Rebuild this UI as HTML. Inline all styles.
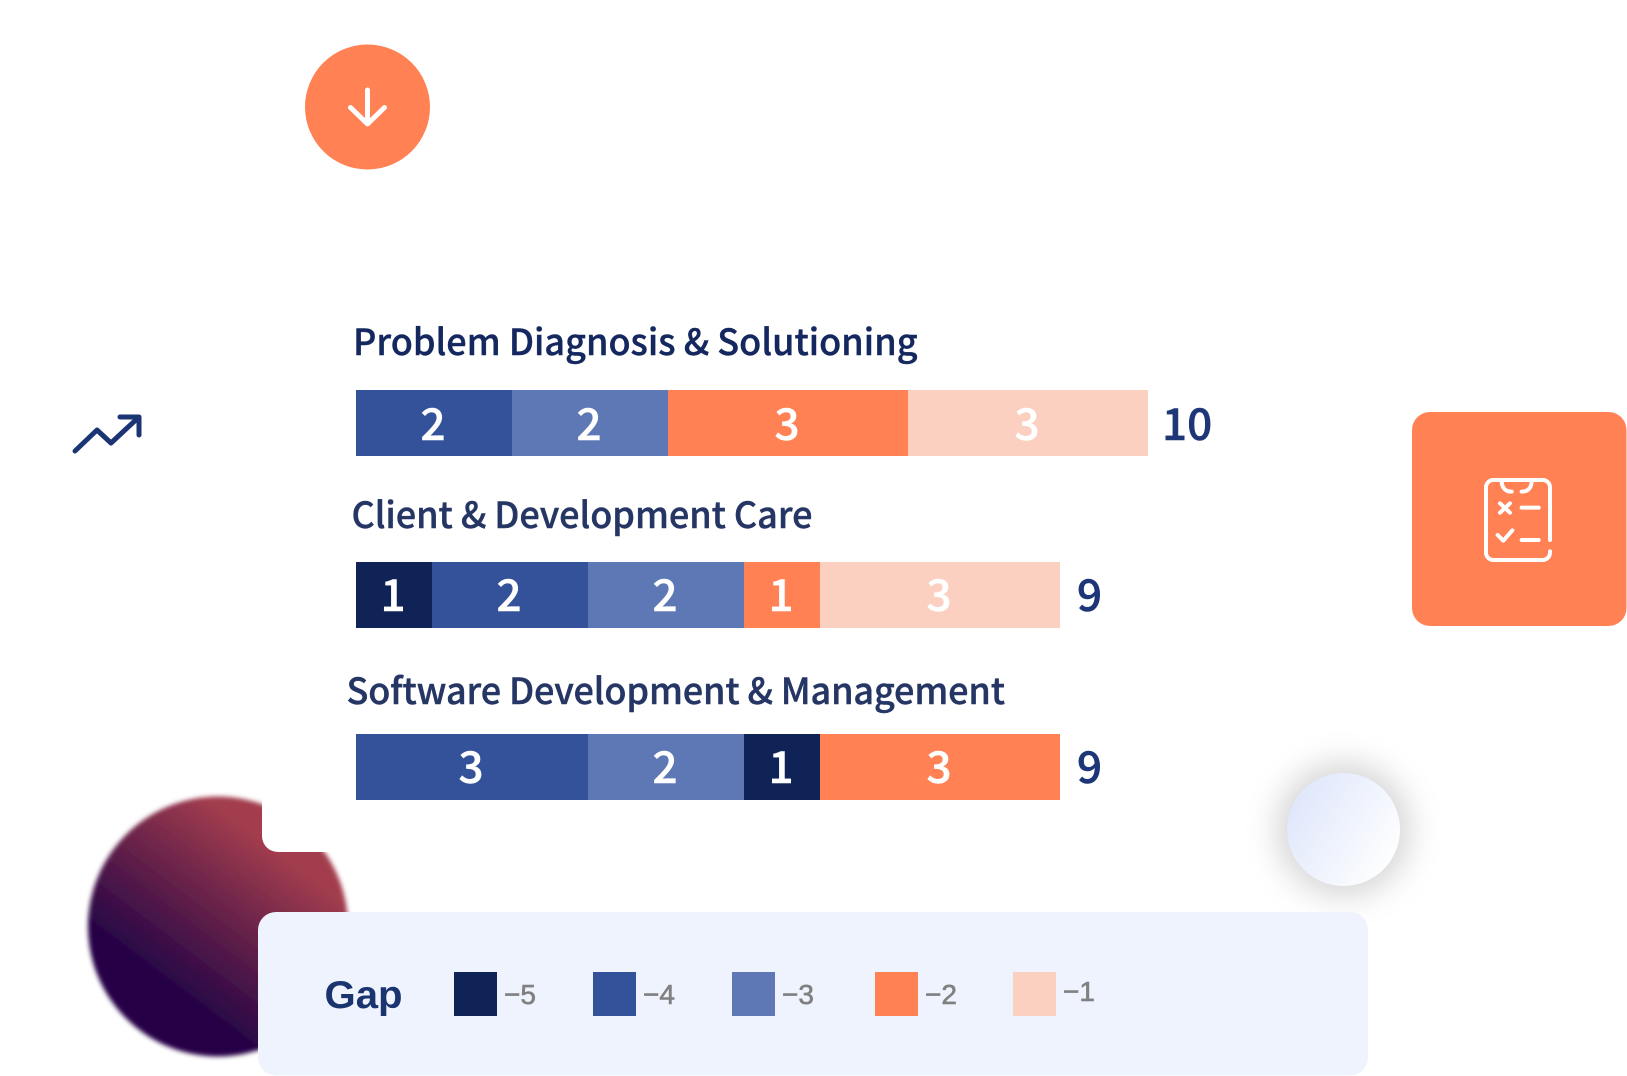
<!DOCTYPE html>
<html lang="en">
<head>
<meta charset="utf-8">
<title>Gap chart</title>
<style>
html,body{margin:0;padding:0;background:#fff;width:1627px;height:1076px;overflow:hidden}
svg{display:block;position:absolute;left:0;top:0}
.cjk{font-family:"Noto Sans CJK JP","Liberation Sans",sans-serif}
.title{font-size:36px;font-weight:500;stroke-width:.4px}
.seg-label{font-size:44px;font-weight:500;fill:#fff;stroke:#fff;stroke-width:.5px;text-anchor:middle}
.total{font-size:44px;font-weight:500;fill:#1c3677;stroke:#1c3677;stroke-width:.5px}
.legend-text{font-family:"Liberation Sans",sans-serif;font-size:28px;fill:#808080;stroke:#808080;stroke-width:.6px}
</style>
</head>
<body>
<svg id="chart" xmlns="http://www.w3.org/2000/svg" width="1627" height="1076" viewBox="0 0 1627 1076">
  <defs>
    <linearGradient id="blobGrad" x1="0.78" y1="0.12" x2="0.28" y2="0.78">
      <stop offset="0.12" stop-color="#a33d4e"/>
      <stop offset="0.92" stop-color="#270546"/>
    </linearGradient>
    <linearGradient id="orbGrad" x1="0.05" y1="0.25" x2="0.95" y2="0.8">
      <stop offset="0" stop-color="#dfe7fb"/>
      <stop offset="1" stop-color="#ffffff"/>
    </linearGradient>
    <filter id="blobBlur" x="-5%" y="-5%" width="110%" height="110%"><feGaussianBlur stdDeviation="2.5"/></filter>
    <filter id="orbShadow" x="-60%" y="-60%" width="220%" height="220%"><feGaussianBlur stdDeviation="16"/></filter>
  </defs>

  <circle cx="218" cy="926.500" r="130" fill="url(#blobGrad)" filter="url(#blobBlur)"/>
  <path d="M262 0H1368V852H278a16 16 0 0 1 -16 -16Z" fill="#ffffff"/>

  <circle cx="367.500" cy="107" r="62.500" fill="#ff8154"/>
  <path d="M367.500 90V124M350.500 107.500L367.500 124L384.500 107.500" fill="none" stroke="#fff" stroke-width="5" stroke-linecap="round" stroke-linejoin="round"/>

  <path d="M75 451L97 430L111 443L139 417M120 417H139V435" fill="none" stroke="#1a3474" stroke-width="5" stroke-linecap="round" stroke-linejoin="round"/>

  <rect x="1412" y="412" width="214.500" height="214" rx="18" fill="#ff8154"/>
  <g transform="translate(1440 450) scale(0.3333)" fill="none" stroke="#fff" stroke-width="12" stroke-linecap="round" stroke-linejoin="round">
    <path d="M330 270V112A22 22 0 0 0 308 90H160A22 22 0 0 0 138 112V308A22 22 0 0 0 160 330H308A22 22 0 0 0 330 308V304"/>
    <path d="M185 92C185 112 195 125 215 125M245 125C265 125 275 112 275 92"/>
    <path d="M180 160L210 188M210 160L180 188M245 173H296"/>
    <path d="M173 255L190 272L217 241M245 270H296"/>
  </g>

  <circle cx="1343.500" cy="829.500" r="66" fill="#000" fill-opacity=".17" filter="url(#orbShadow)"/>
  <circle cx="1343.500" cy="829.500" r="56.500" fill="url(#orbGrad)"/>

  <text class="cjk title" x="353" y="355" textLength="564.500" fill="#14275f" stroke="#14275f">Problem Diagnosis &amp; Solutioning</text>
  <text class="cjk title" x="351.500" y="528" textLength="461" fill="#253664" stroke="#253664">Client &amp; Development Care</text>
  <text class="cjk title" x="346.500" y="704" textLength="658.500" fill="#253664" stroke="#253664">Software Development &amp; Management</text>

  <g id="bars"></g>

  <rect x="258" y="912" width="1110" height="163.500" rx="18" fill="#eff3fd"/>
  <text x="324.500" y="1008" textLength="78" lengthAdjust="spacingAndGlyphs" font-family="'Liberation Sans',sans-serif" font-size="39" font-weight="700" fill="#1a3470">Gap</text>
  <g id="legend"></g>
</svg>

<script>
// Chart data
const categories = ['Problem Diagnosis & Solutioning', 'Client & Development Care', 'Software Development & Management'];
const rowValues = [[2, 2, 3, 3], [1, 2, 2, 1, 3], [3, 2, 1, 3]];
const rowGaps = [[-4, -3, -2, -1], [-5, -4, -3, -2, -1], [-4, -3, -5, -2]];
const legendLevels = [-5, -4, -3, -2, -1];

// Styles
const gapColor = { '-5': '#0f2356', '-4': '#34529a', '-3': '#5e78b5', '-2': '#ff8154', '-1': '#fcd0c0' };
const SVGNS = 'http://www.w3.org/2000/svg';

// Axis functions
function rowY(i) { return 390 + 172 * i; }
function labelY(i) { return rowY(i) + (i === 0 ? 50 : 49); }
const BAR_H = 66;
const BAR_X0 = 356;
function segWidth(value, gap) {
  // warm segments are drawn slightly wider per unit in the reference
  return gap >= -2 ? 82 * value - 6 : 78 * value - 2 * (value % 2);
}
function legendX(i) { return [454, 593, 732, 875, 1013][i]; }

const bars = document.getElementById('bars');
categories.forEach(function (name, r) {
  let x = BAR_X0;
  let total = 0;
  rowValues[r].forEach(function (value, s) {
    const gap = rowGaps[r][s];
    const w = segWidth(value, gap);
    const rect = document.createElementNS(SVGNS, 'rect');
    
    
    rect.setAttribute('x', x);
    rect.setAttribute('y', rowY(r));
    rect.setAttribute('width', w);
    rect.setAttribute('height', BAR_H);
    rect.setAttribute('fill', gapColor[gap]);
    bars.appendChild(rect);

    const t = document.createElementNS(SVGNS, 'text');
    
    
    t.setAttribute('class', 'cjk seg-label');
    t.setAttribute('x', x + w / 2 - 1);
    t.setAttribute('y', labelY(r));
    t.textContent = value;
    bars.appendChild(t);

    x += w;
    total += value;
  });
  const tot = document.createElementNS(SVGNS, 'text');
  
  
  tot.setAttribute('class', 'cjk total');
  tot.setAttribute('x', x + (r === 0 ? 14 : 17));
  tot.setAttribute('y', labelY(r));
  tot.textContent = total;
  bars.appendChild(tot);
});

const legend = document.getElementById('legend');
legendLevels.forEach(function (level, i) {
  const sw = document.createElementNS(SVGNS, 'rect');
  
  
  sw.setAttribute('x', legendX(i));
  sw.setAttribute('y', 972);
  sw.setAttribute('width', 43);
  sw.setAttribute('height', 44);
  sw.setAttribute('fill', gapColor[level]);
  legend.appendChild(sw);

  const lb = document.createElementNS(SVGNS, 'text');
  
  
  lb.setAttribute('class', 'legend-text');
  lb.setAttribute('x', legendX(i) + 50);
  lb.setAttribute('y', level === -1 ? 1001 : 1004);
  lb.textContent = '\u2212' + Math.abs(level);
  legend.appendChild(lb);
});
</script>
</body>
</html>
